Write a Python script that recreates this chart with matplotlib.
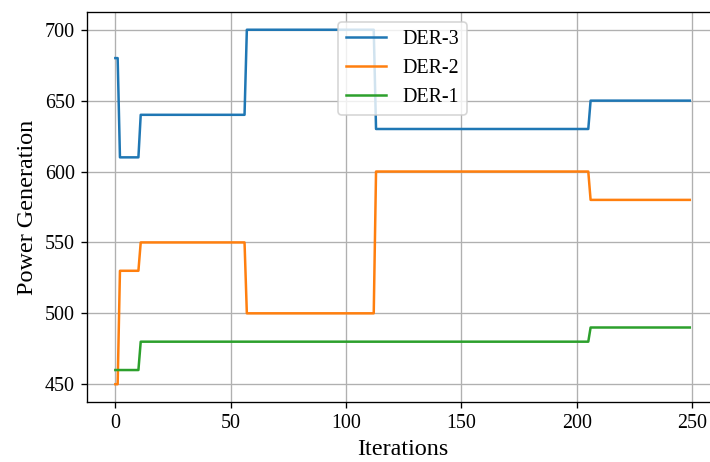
import matplotlib
matplotlib.use("Agg")
import matplotlib.pyplot as plt
import numpy as np

plt.rcParams["font.family"] = ["Liberation Serif", "DejaVu Serif"]

n_iter = 250
# iteration where each level starts, and the level held from there
der3_starts = [0, 2, 11, 57, 113, 206]
der3_levels = [680, 610, 640, 700, 630, 650]
der2_starts = [0, 2, 11, 57, 113, 206]
der2_levels = [450, 530, 550, 500, 600, 580]
der1_starts = [0, 11, 206]
der1_levels = [460, 480, 490]


def hold(starts, levels):
    lengths = np.diff(starts + [n_iter])
    return np.repeat(levels, lengths)


iters = np.arange(n_iter)

# 120 dpi so ticks, pads and lines scale like the reference
fig, ax = plt.subplots(figsize=(710 / 120, 462 / 120), dpi=120)
ax.plot(iters, hold(der3_starts, der3_levels), label="DER-3")
ax.plot(iters, hold(der2_starts, der2_levels), label="DER-2")
ax.plot(iters, hold(der1_starts, der1_levels), label="DER-1")

ax.set_xlabel("Iterations", fontsize=14.5)
ax.set_ylabel("Power Generation", fontsize=14.5)
ax.tick_params(labelsize=12)
ax.grid(True)
ax.legend(loc="upper center", fontsize=12)

# the reference is cropped just past the right spine
plt.subplots_adjust(left=0.122, right=1.012, top=0.974, bottom=0.13)
plt.savefig("out.png")
